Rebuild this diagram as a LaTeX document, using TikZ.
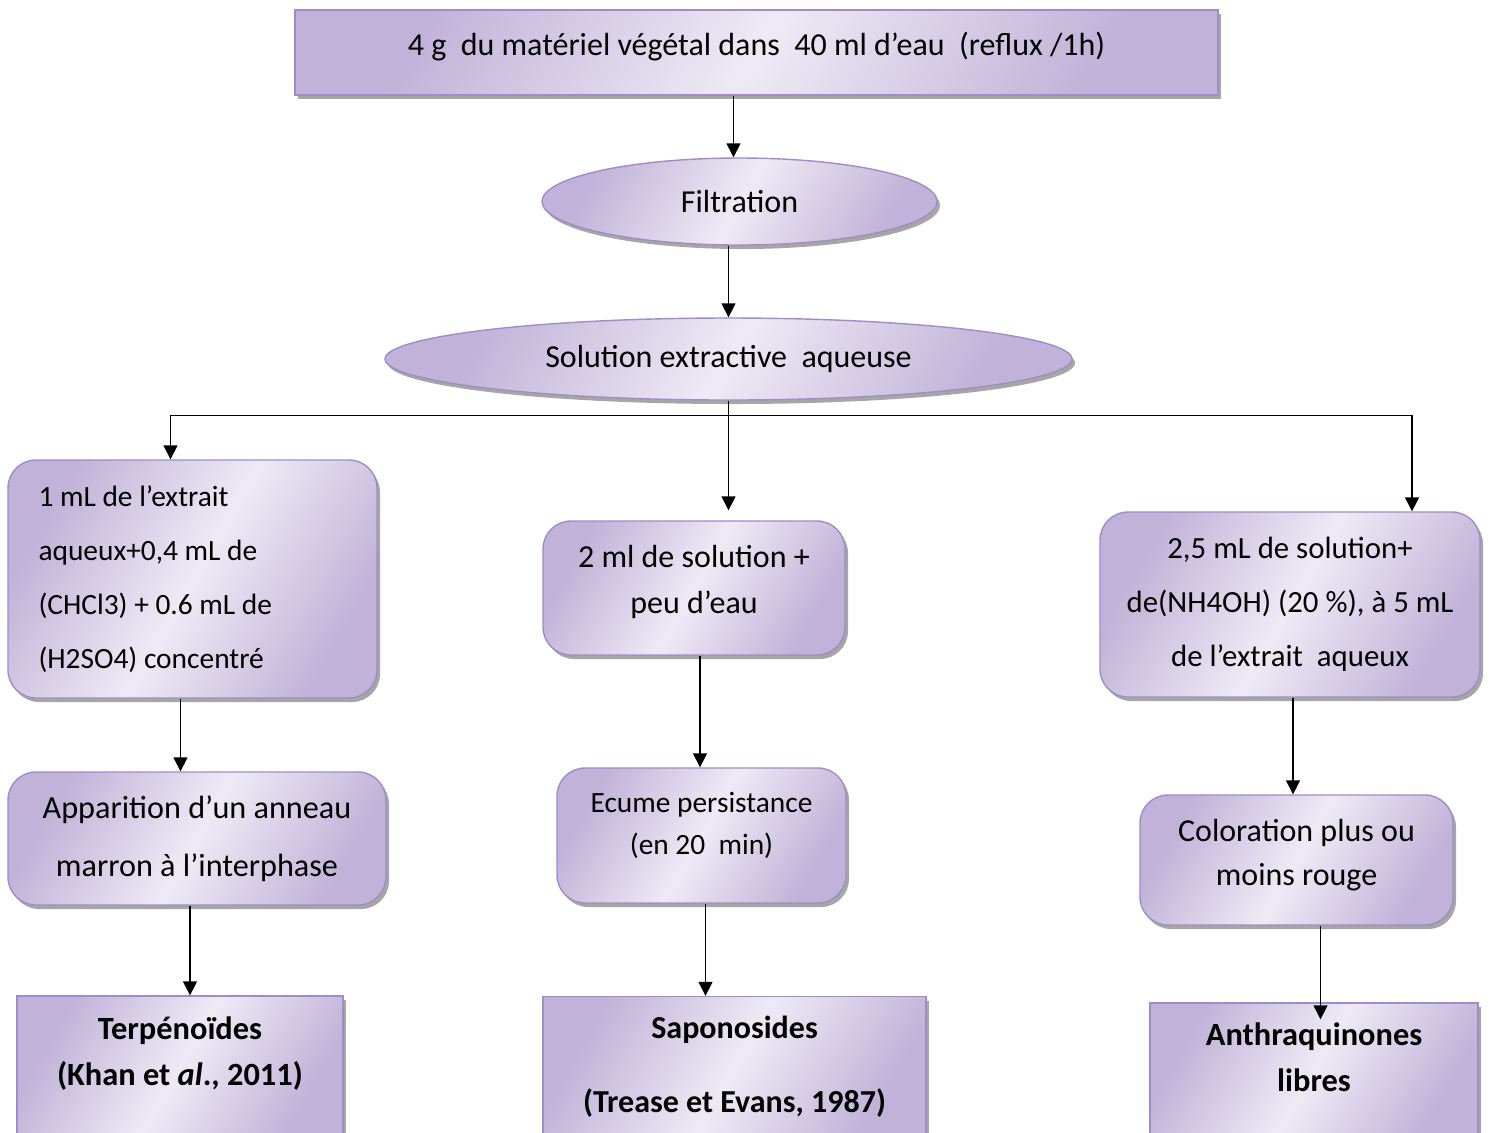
\documentclass[tikz,border=0pt]{standalone}
\usepackage{fontspec}
\setmainfont{Carlito}
\usetikzlibrary{arrows.meta, shapes.geometric, shadows}

\definecolor{lavdark}{RGB}{192,178,216}
\definecolor{lavlight}{RGB}{238,234,245}
\definecolor{lavline}{RGB}{160,140,200}

\begin{document}
\begin{tikzpicture}[
    x=0.5pt, y=-0.5pt,
    >={Triangle[length=7pt, width=7pt]},
    lav/.style={draw=lavline, line width=0.7pt, left color=lavdark, right color=lavdark, middle color=lavlight, shading angle=60,
      drop shadow={shadow xshift=1.5pt, shadow yshift=-2pt, fill=black!35, opacity=1},
      inner sep=0pt, align=center, font=\fontsize{16}{23}\selectfont},
    bar/.style={lav, rectangle},
    oval/.style={lav, ellipse},
    stepbox/.style={lav, rectangle, rounded corners=14pt},
    result/.style={lav, rectangle, font=\bfseries\fontsize{16.2}{23}\selectfont},
    link/.style={->, line width=0.75pt},
  ]
  \path[use as bounding box, clip] (0,0) rectangle (1491,1132);
  % Extraction
  \node[bar, minimum width=461.5pt, minimum height=42.5pt, text depth=9pt] (top) at (756.5,52.5) {4 g~ du matériel végétal dans~ 40 ml d’eau~ (reflux /1h)};
  \node[oval, minimum width=197.5pt, minimum height=43.5pt] (filt) at (739.5,201.5) {Filtration};
  \node[oval, minimum width=343.5pt, minimum height=41pt] (sol) at (728.5,359) {Solution extractive~ aqueuse};
  % Tests
  \node[stepbox, minimum width=184.5pt, minimum height=119pt, text width=154pt, align=flush left, font=\fontsize{14.7}{27}\selectfont] (a1) at (192.5,579)
    {1 mL de l’extrait\\ aqueux+0,4 mL de\\ (CHCl3) + 0.6 mL de\\ (H2SO4) concentré};
  \node[stepbox, minimum width=151pt, minimum height=67pt, text depth=8.5pt] (b1) at (694,588) {2 ml de solution +\\ peu d’eau};
  \node[stepbox, minimum width=190pt, minimum height=92.5pt, font=\fontsize{15.4}{27}\selectfont] (c1) at (1290,604.5)
    {2,5 mL de solution+\\ de(NH4OH) (20~\%), à 5 mL\\ de l’extrait~ aqueux};
  % Observations
  \node[stepbox, minimum width=189pt, minimum height=66.5pt, font=\fontsize{16.1}{29}\selectfont] (a2) at (197,838.5) {Apparition d’un anneau\\ marron à l’interphase};
  \node[stepbox, minimum width=144.5pt, minimum height=67.5pt, font=\fontsize{14.7}{21}\selectfont, text depth=12.5pt] (b2) at (701.5,835.5) {Ecume persistance\\ (en 20~ min)};
  \node[stepbox, minimum width=156.5pt, minimum height=65pt, font=\fontsize{16}{22}\selectfont, text depth=7.5pt] (c2) at (1296.5,860) {Coloration plus ou\\ moins rouge};
  % Results
  \node[result, minimum width=163pt, minimum height=70pt, text depth=15pt] (a3) at (180,1066) {Terpénoïdes\\ (Khan et \textit{al}., 2011)};
  \node[result, minimum width=191.5pt, minimum height=70pt, font=\bfseries\fontsize{16}{37}\selectfont] (b3) at (734.5,1066.5) {Saponosides\\ (Trease et Evans, 1987)};
  \node[result, minimum width=164pt, minimum height=66.5pt, text depth=12pt] (c3) at (1314,1069.5) {Anthraquinones\\ libres};
  % Arrows
  \draw[link] ([xshift=-3pt]filt.north |- top.south) -- ([xshift=-3pt]filt.north);
  \draw[link] (sol.north |- filt.south) -- (sol.north);
  \coordinate (fork) at ([yshift=-7.5pt]sol.south);
  \draw[line width=0.75pt] (sol.south) -- (fork);
  \draw[link] (fork) -| ([xshift=-11pt]a1.north);
  \draw[link, shorten >=5pt] (fork) -- (fork |- b1.north);
  \draw[link] (fork) -| ([xshift=61pt]c1.north);
  \draw[link] ([xshift=-6pt]a1.south) -- ([xshift=-6pt]a1.south |- a2.north);
  \draw[link] ([xshift=3pt]b1.south) -- ([xshift=3pt]b1.south |- b2.north);
  \draw[link] ([xshift=1.5pt]c1.south) -- ([xshift=1.5pt]c1.south |- c2.north);
  \draw[link] ([xshift=-3.5pt]a2.south) -- ([xshift=-3.5pt]a2.south |- a3.north);
  \draw[link] ([xshift=2pt]b2.south) -- ([xshift=2pt]b2.south |- b3.north);
  \draw[link, shorten >=-8.5pt] ([xshift=12pt]c2.south) -- ([xshift=12pt]c2.south |- c3.north);
\end{tikzpicture}
\end{document}
